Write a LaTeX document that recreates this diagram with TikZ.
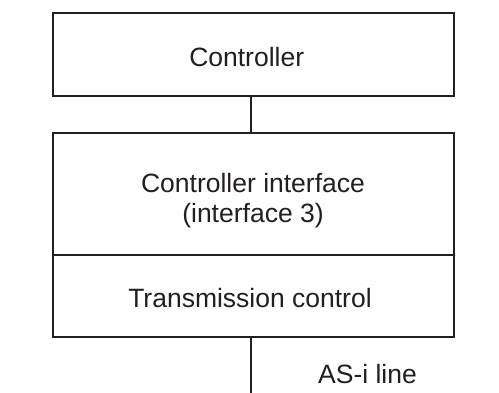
\documentclass[tikz,border=0pt]{standalone}
\usepackage{fontspec}
\setmainfont{Liberation Sans}
\definecolor{ink}{RGB}{35,31,32}
\begin{document}
\begin{tikzpicture}[x=1pt,y=-1pt,
  block/.style={draw=ink,line width=2pt,minimum width=401pt,inner sep=0pt},
  wire/.style={draw=ink,line width=2.6pt},
  lbl/.style={font=\fontsize{26.5}{30}\selectfont,text=ink,inner sep=0pt,align=center,anchor=base}]
\useasboundingbox (0,0) rectangle (499,392);
\node[block,minimum height=83.3pt] (ctrl) at (253.5,54.4) {};
\node[block,minimum height=122pt] (iface) at (253.5,194) {};
\node[block,minimum height=82pt] (trans) at (253.5,296) {};
\node[lbl] (ctrltxt) at (246.7,66) {Controller};
\node[lbl] (ifacetxt) at (253,222) {Controller interface\\(interface 3)};
\node[lbl] (transtxt) at (250,307) {Transmission control};
\coordinate (bus) at (251,393);
\draw[wire] ([xshift=-2.5pt]ctrl.south) -- ([xshift=-2.5pt]iface.north);
\draw[wire] ([xshift=-2.5pt]trans.south) -- (bus);
\node[lbl] (asi) at (367.5,383) {AS-i line};
\end{tikzpicture}
\end{document}
